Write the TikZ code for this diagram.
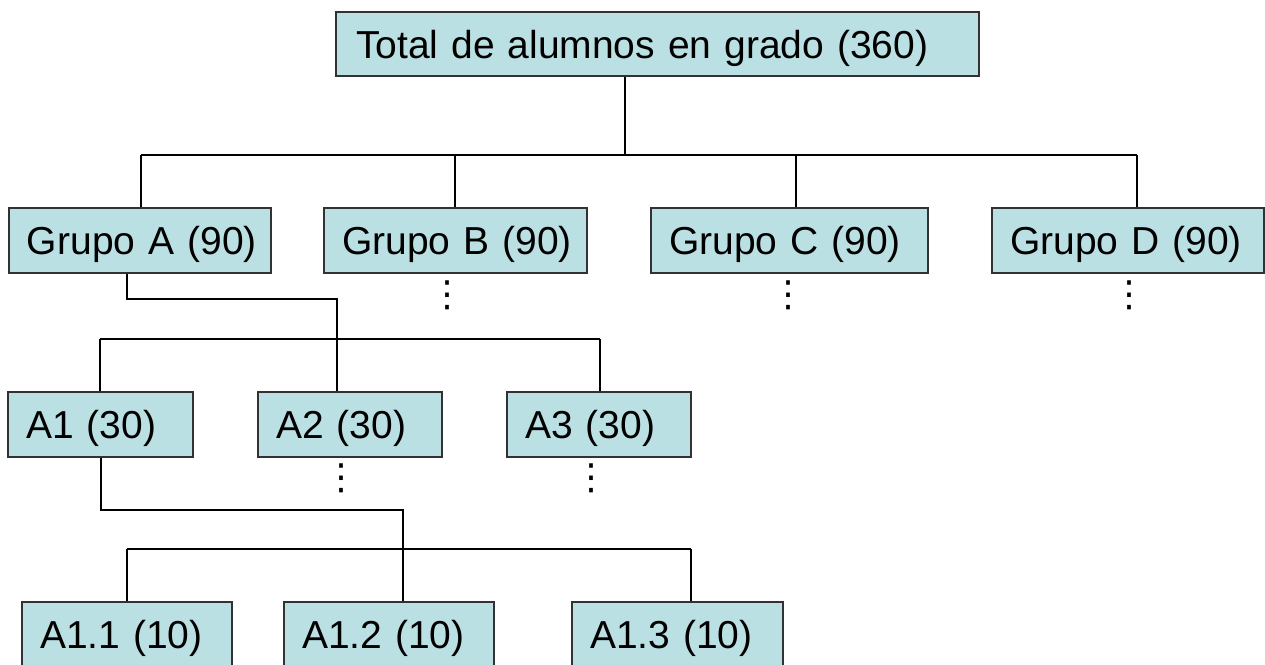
\documentclass[tikz,border=0pt]{standalone}
\usepackage{fontspec}
\setmainfont{Liberation Sans}
\newfontfamily\dejavu{DejaVu Sans}
\definecolor{boxfill}{RGB}{187,224,227}
\definecolor{boxline}{RGB}{50,50,50}
\tikzset{
  box/.style={draw=boxline, fill=boxfill, line width=1.6pt, inner xsep=18pt, inner ysep=0pt,
    text height=28pt, text depth=0pt, minimum height=64.5pt, align=left,
    font=\fontsize{39}{40}\selectfont},
  conn/.style={draw=black, line width=1.4pt},
  vdots/.style={inner sep=0pt, font=\dejavu\fontsize{36}{36}\selectfont}
}
\begin{document}
\begin{tikzpicture}[x=1pt,y=-1pt]
\useasboundingbox (0,0) rectangle (1265,664);
% boxes
\node[box, text width=603pt, inner xsep=20pt] (top) at (657.5,44) {\mbox{Total de alumnos en grado (360)}};
\node[box, text width=226pt] (gA) at (140,240.5) {\mbox{Grupo A (90)}};
\node[box, text width=227pt] (gB) at (455.5,240.5) {\mbox{Grupo B (90)}};
\node[box, text width=241pt] (gC) at (789.5,240.5) {\mbox{Grupo C (90)}};
\node[box, text width=236pt] (gD) at (1128,240.5) {\mbox{Grupo D (90)}};
\node[box, text width=149pt] (A1) at (100.5,424.5) {\mbox{A1 (30)}};
\node[box, text width=148pt] (A2) at (350,424.5) {\mbox{A2 (30)}};
\node[box, text width=148pt] (A3) at (599,424.5) {\mbox{A3 (30)}};
\node[box, text width=174pt] (A11) at (127,634) {\mbox{A1.1 (10)}};
\node[box, text width=174pt] (A12) at (389,634) {\mbox{A1.2 (10)}};
\node[box, text width=175pt] (A13) at (677.5,634) {\mbox{A1.3 (10)}};
% junction coordinates
\coordinate (s0) at (625,155);
\coordinate (b1a) at (141,155);
\coordinate (b1b) at (455,155);
\coordinate (b1c) at (796,155);
\coordinate (b1d) at (1137,155);
\coordinate (ga) at (127,299);
\coordinate (gk) at (337,299);
\coordinate (b2a) at (100,339);
\coordinate (b2c) at (600,339);
\coordinate (aa) at (101,510);
\coordinate (ak) at (403,510);
\coordinate (b3a) at (127,549);
\coordinate (b3c) at (691,549);
% level 1
\draw[conn] (top.south -| s0) -- (s0);
\draw[conn] (b1a) -- (b1d);
\draw[conn] (b1a) -- (gA.north -| b1a);
\draw[conn] (b1b) -- (gB.north -| b1b);
\draw[conn] (b1c) -- (gC.north -| b1c);
\draw[conn] (b1d) -- (gD.north -| b1d);
% level 2
\draw[conn] (gA.south -| ga) -- (ga) -- (gk) -- (A2.north -| gk);
\draw[conn] (b2a) -- (b2c);
\draw[conn] (b2a) -- (A1.north -| b2a);
\draw[conn] (b2c) -- (A3.north -| b2c);
% level 3
\draw[conn] (A1.south -| aa) -- (aa) -- (ak) -- (A12.north -| ak);
\draw[conn] (b3a) -- (b3c);
\draw[conn] (b3a) -- (A11.north -| b3a);
\draw[conn] (b3c) -- (A13.north -| b3c);
% ellipses
\node[vdots] (dB) at (447,295) {⋮};
\node[vdots] (dC) at (788,295) {⋮};
\node[vdots] (dD) at (1129,295) {⋮};
\node[vdots] (d2) at (341,478) {⋮};
\node[vdots] (d3) at (591,478) {⋮};
\end{tikzpicture}
\end{document}
